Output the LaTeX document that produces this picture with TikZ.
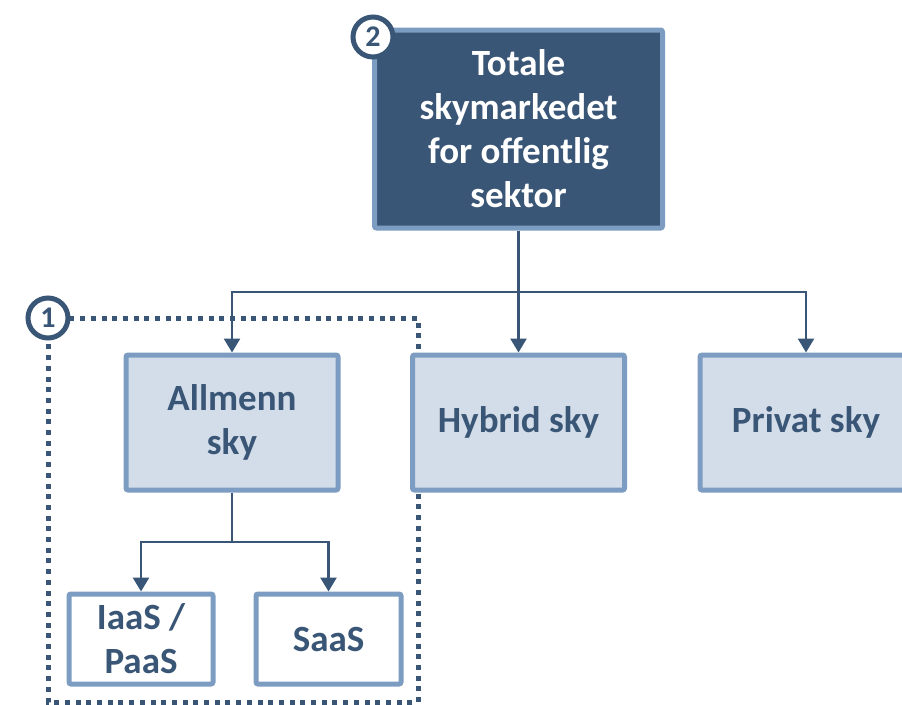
\documentclass[tikz,border=0pt]{standalone}
\usepackage{fontspec}
\setmainfont{Carlito}
\usetikzlibrary{arrows.meta}
\definecolor{darkblue}{HTML}{3A5676}
\definecolor{midblue}{HTML}{7C9DC1}
\definecolor{lightblue}{HTML}{D3DDE9}
\begin{document}
\begin{tikzpicture}[x=1pt,y=-1pt,
  box/.style={draw=midblue, line width=5pt, rounded corners=2pt, inner sep=0pt, align=center,
    font=\fontsize{37}{44}\selectfont\bfseries},
  topbox/.style={box, fill=darkblue, text=white},
  midbox/.style={box, fill=lightblue, text=darkblue},
  subbox/.style={box, fill=white, text=darkblue},
  conn/.style={draw=darkblue, line width=2.6pt},
  arr/.style={conn, -{Triangle[length=14pt,width=16pt]}},
  badge/.style={circle, draw=darkblue, line width=5pt, fill=white, minimum size=40pt, inner sep=0pt,
    text=darkblue, font=\fontsize{30}{30}\selectfont\bfseries},
  dotbox/.style={draw=darkblue, line width=5pt, dash pattern=on 5pt off 5.7pt}
]
\useasboundingbox (0,0) rectangle (902,704);
% dotted frame
\coordinate (f1) at (48,318);
\coordinate (f2) at (418,318);
\coordinate (f3) at (418,702);
\coordinate (f4) at (48,702);
\draw[dotbox] (f1) -- (f2) -- (f3) -- (f4) -- cycle;

\node[topbox, minimum width=288pt, minimum height=198pt] (top) at (518.5,129) {Totale\\skymarkedet\\for offentlig\\sektor};
\node[midbox, minimum width=212pt, minimum height=135pt] (all) at (232,422.5) {Allmenn\\sky};
\node[midbox, minimum width=212pt, minimum height=135pt] (hyb) at (518.5,422.5) {Hybrid sky};
\node[midbox, minimum width=212pt, minimum height=135pt] (pri) at (806,422.5) {Privat sky};
\node[subbox, minimum width=144pt, minimum height=90pt] (iaas) at (141,639) {IaaS /\\PaaS};
\node[subbox, minimum width=145pt, minimum height=90pt] (saas) at (328.5,639) {SaaS};

\coordinate (j1) at (518.5,292);
\coordinate (j2) at (232,542);
\draw[conn] (top.south) -- (j1);
\draw[arr] (j1) -| (all.north);
\draw[arr] (j1) -- (hyb.north);
\draw[arr] (j1) -| (pri.north);
\draw[conn] (all.south) -- (j2);
\draw[arr] (j2) -| (iaas.north);
\draw[arr] (j2) -| (saas.north);

\node[badge] (b2) at (373,37) {2};
\node[badge] (b1) at (48,318) {1};
\end{tikzpicture}
\end{document}
